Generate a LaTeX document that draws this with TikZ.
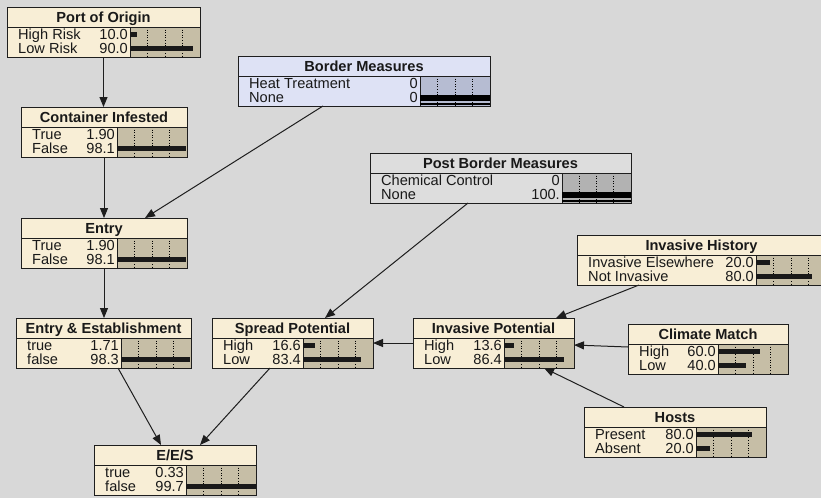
\documentclass[tikz,border=0pt]{standalone}
\usepackage{fontspec}
\setmainfont{Liberation Sans}
\usetikzlibrary{arrows.meta}
\definecolor{bg}{RGB}{216,216,216}
\definecolor{cream}{RGB}{248,238,214}
\definecolor{tanbar}{RGB}{198,190,166}
\definecolor{lav}{RGB}{222,226,245}
\definecolor{lavbar}{RGB}{182,188,210}
\definecolor{gry}{RGB}{221,221,221}
\definecolor{grybar}{RGB}{178,178,178}
\definecolor{edge}{RGB}{30,30,30}

\tikzset{
  boxframe/.style={draw=edge, line width=1pt, inner sep=0pt, outer sep=0pt, anchor=north west},
  titletext/.style={font=\fontsize{14.6}{14.6}\selectfont\bfseries, inner sep=0pt, anchor=base, text=black!90},
  rowtext/.style={font=\fontsize{14.6}{14.6}\selectfont, inner sep=0pt, text=black!90},
  gridline/.style={black, line width=0.6pt, dotted},
  barfill/.style={fill=black!90},
  arr/.style={draw=edge, line width=1pt, -{Triangle[length=10pt,width=8pt]}},
}

% name x1 y1 x2 xbar title fill barfill
\newcommand\netbox[8]{%
  \node[boxframe, fill=#7, minimum width={#4pt-#2pt}, minimum height=50pt] (#1) at (#2,#3) {};
  \fill[#8] (#5,#3+20) rectangle (#4,#3+50);
  \foreach \k in {1,2,3} \draw[gridline] ({#5+\k*(#4-#5)/4},#3+20) -- ({#5+\k*(#4-#5)/4},#3+50);
  \draw[edge, line width=1pt] (#2,#3+20) -- (#4,#3+20);
  \draw[edge, line width=0.8pt] (#5,#3+20) -- (#5,#3+50);
  \node[titletext] (#1-t) at ({(#2+#4)/2},#3+15) {#6};
}
% name k x1 xbar baseline label value pct
\newcommand\netrow[8]{%
  \node[rowtext, anchor=base west] (#1-l#2) at (#3+11,#5) {#6};
  \node[rowtext, anchor=base east] (#1-v#2) at (#4-2,#5) {#7};
  \fill[barfill] (#4,#5-7) rectangle ({#4+0.7*#8},#5-2);
}
% xbar x2 baseline
\newcommand\evbar[3]{%
  \fill[black] (#1,#3-7) rectangle (#2,#3-1);
  \draw[black, line width=1.4pt] (#1,#3+2) -- (#2,#3+2);
}
\newcommand\frameagain[1]{\draw[edge, line width=1pt] (#1.north west) rectangle (#1.south east);}

\begin{document}
\begin{tikzpicture}[x=1pt, y=-1pt]
\useasboundingbox (0,0) rectangle (821,498);
\fill[bg] (0,0) rectangle (821,498);
\clip (0,0) rectangle (821,498);

\netbox{po}{7}{7}{200}{130}{Port of Origin}{cream}{tanbar}
\netrow{po}{1}{7}{130}{39}{High Risk}{10.0}{10}
\netrow{po}{2}{7}{130}{53}{Low Risk}{90.0}{90}
\frameagain{po}

\netbox{bm}{238}{56}{490}{420}{Border Measures}{lav}{lavbar}
\netrow{bm}{1}{238}{420}{88}{Heat Treatment}{0}{0}
\netrow{bm}{2}{238}{420}{102}{None}{0}{0}
\evbar{420}{490}{102}
\frameagain{bm}

\netbox{ci}{21}{107}{187}{117}{Container Infested}{cream}{tanbar}
\netrow{ci}{1}{21}{117}{139}{True}{1.90}{1.9}
\netrow{ci}{2}{21}{117}{153}{False}{98.1}{98.1}
\frameagain{ci}

\netbox{pbm}{370}{153}{631}{562}{Post Border Measures}{gry}{grybar}
\netrow{pbm}{1}{370}{562}{185}{Chemical Control}{0}{0}
\netrow{pbm}{2}{370}{562}{199}{None}{100.}{0}
\evbar{562}{631}{199}
\frameagain{pbm}

\netbox{en}{21}{218}{187}{117}{Entry}{cream}{tanbar}
\netrow{en}{1}{21}{117}{250}{True}{1.90}{1.9}
\netrow{en}{2}{21}{117}{264}{False}{98.1}{98.1}
\frameagain{en}

\netbox{ih}{577}{235}{826}{756}{Invasive History}{cream}{tanbar}
\netrow{ih}{1}{577}{756}{267}{Invasive Elsewhere}{20.0}{20}
\netrow{ih}{2}{577}{756}{281}{Not Invasive}{80.0}{80}
\frameagain{ih}

\netbox{ee}{16}{318}{191}{121}{Entry \& Establishment}{cream}{tanbar}
\netrow{ee}{1}{16}{121}{350}{true}{1.71}{1.71}
\netrow{ee}{2}{16}{121}{364}{false}{98.3}{98.3}
\frameagain{ee}

\netbox{sp}{212}{318}{373}{303}{Spread Potential}{cream}{tanbar}
\netrow{sp}{1}{212}{303}{350}{High}{16.6}{16.6}
\netrow{sp}{2}{212}{303}{364}{Low}{83.4}{83.4}
\frameagain{sp}

\netbox{ip}{413}{318}{574}{504}{Invasive Potential}{cream}{tanbar}
\netrow{ip}{1}{413}{504}{350}{High}{13.6}{13.6}
\netrow{ip}{2}{413}{504}{364}{Low}{86.4}{86.4}
\frameagain{ip}

\netbox{cm}{628}{324}{788}{718}{Climate Match}{cream}{tanbar}
\netrow{cm}{1}{628}{718}{356}{High}{60.0}{60}
\netrow{cm}{2}{628}{718}{370}{Low}{40.0}{40}
\frameagain{cm}

\netbox{ho}{584}{407}{766}{696}{Hosts}{cream}{tanbar}
\netrow{ho}{1}{584}{696}{439}{Present}{80.0}{80}
\netrow{ho}{2}{584}{696}{453}{Absent}{20.0}{20}
\frameagain{ho}

\netbox{ees}{94}{445}{256}{186}{E/E/S}{cream}{tanbar}
\netrow{ees}{1}{94}{186}{477}{true}{0.33}{0.33}
\netrow{ees}{2}{94}{186}{491}{false}{99.7}{99.7}
\frameagain{ees}

% connectors
\draw[arr] (po.south) -- (po.south |- ci.north);
\draw[arr] (ci.south) -- (ci.south |- en.north);
\draw[arr] ([xshift=85pt]bm.south west) -- ([xshift=124pt]en.north west);
\draw[arr] (en.south) -- (en.south |- ee.north);
\draw[arr] ([xshift=98pt]pbm.south west) -- ([xshift=113pt]sp.north west);
\draw[arr] ([xshift=62pt]ih.south west) -- ([xshift=143pt]ip.north west);
\draw[arr] (ip.west) -- (sp.east);
\draw[arr] ([yshift=2pt]cm.west) -- ([yshift=-2pt]ip.east);
\draw[arr] ([xshift=40pt]ho.north west) -- ([xshift=131pt]ip.south west);
\draw[arr] ([xshift=102pt]ee.south west) -- ([xshift=67pt]ees.north west);
\draw[arr] ([xshift=58pt]sp.south west) -- ([xshift=106pt]ees.north west);
\end{tikzpicture}
\end{document}
